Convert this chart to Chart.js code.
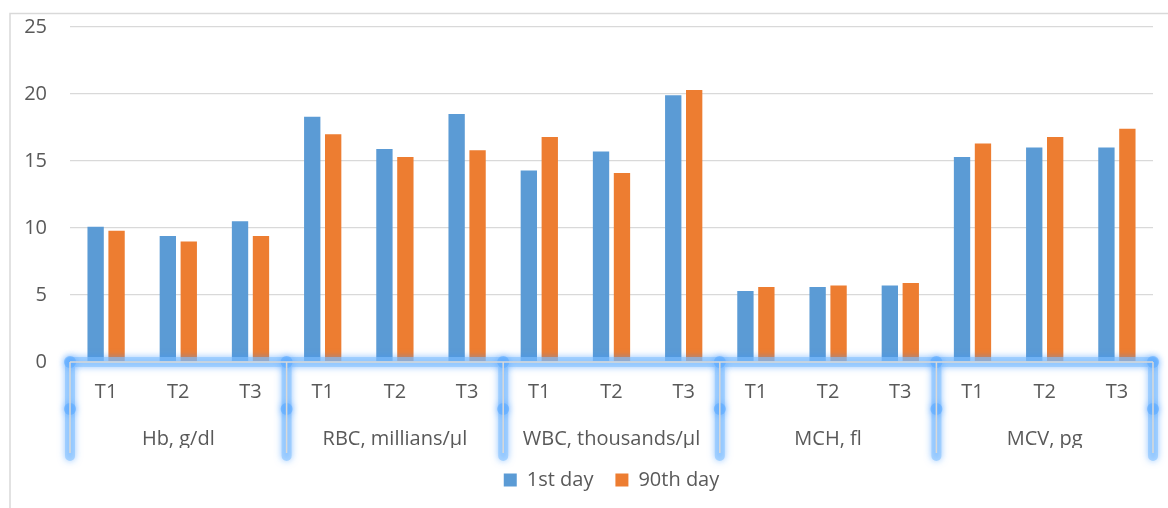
<!DOCTYPE html>
<html>
<head>
<meta charset="utf-8">
<script src="https://cdn.jsdelivr.net/npm/chart.js@4.4.1/dist/chart.umd.min.js"></script>
<style>
  html, body { margin: 0; padding: 0; background: #fff; overflow: hidden; }
</style>
</head>
<body>
<canvas id="hemoChart" width="1168" height="508"></canvas>
<script>
'use strict';

/* --------------------------------------------------------------------------
   DATA
   -------------------------------------------------------------------------- */
const GROUPS = ['Hb, g/dl', 'RBC, millians/µl', 'WBC, thousands/µl', 'MCH, fl', 'MCV, pg'];
const TREATMENTS = ['T1', 'T2', 'T3'];
const SERIES_NAMES = ['1st day', '90th day'];
const DAY_1 = [10.1, 9.4, 10.5, 18.3, 15.9, 18.5, 14.3, 15.7, 19.9, 5.3, 5.6, 5.7, 15.3, 16.0, 16.0];
const DAY_90 = [9.8, 9.0, 9.4, 17.0, 15.3, 15.8, 16.8, 14.1, 20.3, 5.6, 5.7, 5.9, 16.3, 16.8, 17.4];
const Y_MIN = 0, Y_MAX = 25, Y_STEP = 5;

const CATEGORIES = GROUPS.flatMap(() => TREATMENTS);

const COLORS = { blue: '#5B9BD5', orange: '#ED7D31', text: '#595959', grid: '#d9d9d9' };
const FONT = '"Open Sans", Lato, "Liberation Sans", sans-serif';
const BRACKET_ROW = 47;   // height of each row of the bracket under the plot

/* --------------------------------------------------------------------------
   PLUGIN — outer frame + glowing group brackets under the plot
   -------------------------------------------------------------------------- */
const bracketGlow = {
    id: 'bracketGlow',
    beforeDraw(chart) {
        const ctx = chart.ctx;
        ctx.save();
        ctx.strokeStyle = COLORS.grid;
        ctx.lineWidth = 1.5;
        ctx.beginPath();
        ctx.moveTo(10, chart.height); ctx.lineTo(10, 13.5); ctx.lineTo(chart.width, 13.5);
        ctx.stroke();
        ctx.restore();
    },
    afterDraw(chart) {
        const { ctx, chartArea: a, scales: { x } } = chart;
        const per = TREATMENTS.length;
        const bounds = GROUPS.map((g, i) => x.getPixelForValue(i * per - 0.5));
        bounds.push(x.getPixelForValue(CATEGORIES.length - 0.5));
        const yTop = a.bottom, yMid = a.bottom + BRACKET_ROW, yEnd = a.bottom + BRACKET_ROW * 2;
        const first = bounds[0], last = bounds[bounds.length - 1];

        ctx.save();
        ctx.lineCap = 'round';
        ctx.lineJoin = 'round';
        ctx.shadowColor = 'rgba(60,150,255,0.9)';
        ctx.shadowBlur = 7;
        ctx.strokeStyle = 'rgba(135,195,255,0.6)';
        ctx.lineWidth = 10;
        ctx.beginPath();
        ctx.moveTo(first, yTop); ctx.lineTo(last, yTop);
        bounds.forEach(b => { ctx.moveTo(b, yTop); ctx.lineTo(b, yEnd); });
        ctx.stroke();
        ctx.fillStyle = 'rgba(90,170,255,0.55)';
        bounds.forEach(b => [yTop, yMid].forEach(y => {
            ctx.beginPath(); ctx.arc(b, y, 6, 0, Math.PI * 2); ctx.fill();
        }));
        ctx.restore();

        ctx.save();
        ctx.strokeStyle = COLORS.grid;
        ctx.lineWidth = 1.5;
        ctx.beginPath();
        ctx.moveTo(first, yTop); ctx.lineTo(last, yTop);
        bounds.forEach(b => { ctx.moveTo(b, yTop); ctx.lineTo(b, yEnd - 3); });
        ctx.stroke();
        ctx.restore();
    },
};

/* --------------------------------------------------------------------------
   CHART
   -------------------------------------------------------------------------- */
const ctx = document.getElementById('hemoChart').getContext('2d');
new Chart(ctx, {
    type: 'bar',
    data: {
        labels: CATEGORIES,
        datasets: [
            { label: SERIES_NAMES[0], data: DAY_1, backgroundColor: COLORS.blue, categoryPercentage: 0.58, barPercentage: 0.78 },
            { label: SERIES_NAMES[1], data: DAY_90, backgroundColor: COLORS.orange, categoryPercentage: 0.58, barPercentage: 0.78 },
        ],
    },
    options: {
        responsive: false,
        animation: false,
        devicePixelRatio: 1,
        layout: { padding: { left: 10, right: 15, top: 27, bottom: 8 } },
        plugins: {
            legend: {
                position: 'bottom',
                fullSize: false,
                labels: { color: COLORS.text, font: { family: FONT, size: 20 }, boxWidth: 13, boxHeight: 13, padding: 22 },
            },
            tooltip: { enabled: false },
        },
        scales: {
            y: {
                min: Y_MIN, max: Y_MAX,
                ticks: { stepSize: Y_STEP, color: COLORS.text, font: { family: FONT, size: 20 }, padding: 23 },
                grid: { color: COLORS.grid, lineWidth: 1.3, drawTicks: false },
                border: { display: false },
                afterFit: s => { s.width = 60; s.paddingTop = 0; s.paddingBottom = 0; },
            },
            x: {
                weight: 1,
                ticks: { color: COLORS.text, font: { family: FONT, size: 20 }, padding: 18, maxRotation: 0, autoSkip: false },
                grid: { display: false, drawTicks: false },
                border: { display: false },
                afterFit: s => { s.height = 47; },
            },
            x2: {
                type: 'category',
                position: 'bottom',
                weight: 2,
                labels: GROUPS,
                offset: true,
                ticks: { color: COLORS.text, font: { family: FONT, size: 20 }, padding: 18, maxRotation: 0, autoSkip: false },
                grid: { display: false, drawTicks: false },
                border: { display: false },
                afterFit: s => { s.height = 39; },
            },
        },
    },
    plugins: [bracketGlow],
});
</script>
</body>
</html>
